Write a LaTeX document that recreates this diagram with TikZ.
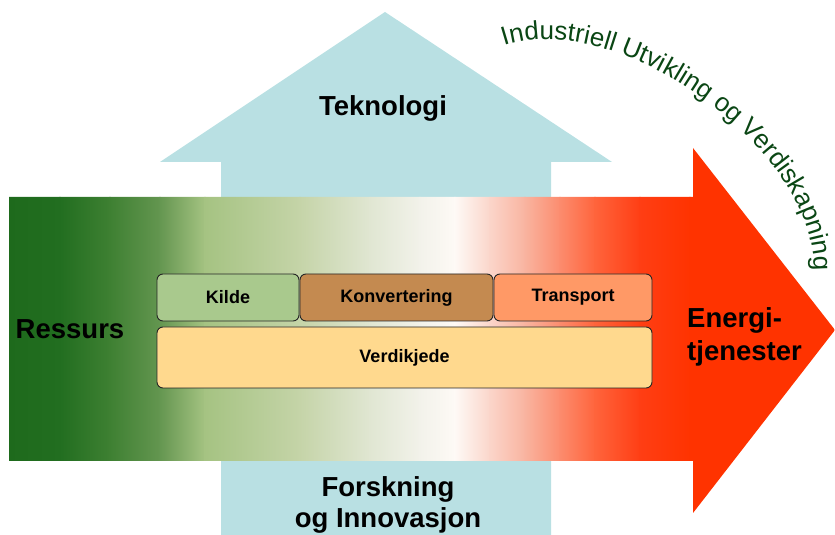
\documentclass[tikz,border=0pt]{standalone}
\usepackage{fontspec}
\setmainfont{Liberation Sans}
\usetikzlibrary{decorations.text}
\definecolor{lblue}{RGB}{185,224,227}
\definecolor{kildec}{RGB}{169,201,141}
\definecolor{konvc}{RGB}{196,138,80}
\definecolor{transc}{RGB}{255,153,102}
\definecolor{verdic}{RGB}{255,217,142}
\definecolor{curvegreen}{RGB}{10,70,20}
\definecolor{ga}{RGB}{30,106,28}
\definecolor{gb}{RGB}{34,110,32}
\definecolor{gc}{RGB}{62,128,50}
\definecolor{gd}{RGB}{100,150,80}
\definecolor{ge}{RGB}{165,195,130}
\definecolor{gf}{RGB}{197,212,168}
\definecolor{gg}{RGB}{224,230,210}
\definecolor{gh}{RGB}{242,242,234}
\definecolor{gi}{RGB}{254,250,246}
\definecolor{gj}{RGB}{251,213,202}
\definecolor{gk}{RGB}{249,180,160}
\definecolor{gl}{RGB}{252,140,110}
\definecolor{gm}{RGB}{255,100,60}
\definecolor{gn}{RGB}{255,62,20}
\definecolor{go}{RGB}{255,51,0}
\newcommand\curvefont{\fontsize{26}{26}\selectfont\color{curvegreen}}
\begin{document}
\begin{tikzpicture}[x=1pt,y=1pt,
  box/.style={draw=black!85, line width=0.9pt, rounded corners=6pt, inner sep=0pt,
    font=\bfseries\fontsize{18}{18}\selectfont},
  big/.style={font=\bfseries\fontsize{27.5}{33}\selectfont, inner sep=0pt}]
\useasboundingbox (0,0) rectangle (835,535);
% up arrow
\fill[lblue] (221,0) -- (221,373) -- (160,373) -- (385,523) -- (612,373) -- (551,373) -- (551,0) -- cycle;
% right arrow with gradient
\begin{scope}
\clip (9,74) -- (9,338) -- (693,338) -- (693,387) -- (835,205) -- (693,22) -- (693,74) -- cycle;
\foreach \xa/\ca/\xb/\cb in {9/ga/60/gb, 60/gb/110/gc, 110/gc/160/gd, 160/gd/205/ge,
  205/ge/300/gf, 300/gf/370/gg, 370/gg/420/gh, 420/gh/455/gi, 455/gi/490/gj,
  490/gj/525/gk, 525/gk/560/gl, 560/gl/595/gm, 595/gm/640/gn, 640/gn/690/go, 690/go/836/go}
  \shade[left color=\ca, right color=\cb] (\xa-0.6,0) rectangle (\xb+0.6,535);
\end{scope}
% boxes
\node[box, fill=kildec, minimum width=142pt, minimum height=47pt] (kilde) at (228,237.5) {Kilde};
\node[box, fill=konvc, minimum width=193pt, minimum height=47pt] (konv) at (396.5,237.5) {Konvertering};
\node[box, fill=transc, minimum width=158pt, minimum height=47pt] (trans) at (573,237.5) {Transport};
\node[box, fill=verdic, minimum width=495pt, minimum height=61pt] (verdi) at (404.5,177.5) {Verdikjede};
% labels
\node[big] (tek) at (383,427) {Teknologi};
\node[big] (res) at (70,206) {Ressurs};
\node[big, align=left, anchor=west] (energi) at (687,198) {Energi-\\tjenester};
\node[big, align=center, font=\bfseries\fontsize{27.5}{31}\selectfont] (forsk) at (388,30) {Forskning\\og Innovasjon};
% curved text
\coordinate (cs) at (504,489);
\coordinate (ce) at (814,267);
\path[decorate, decoration={text along path, text align=left,
  text={|\curvefont|Industriell Utvikling og Verdiskapning}}]
  (cs) .. controls (619,527) and (814,387) .. (ce) -- (814,225);
\end{tikzpicture}
\end{document}
